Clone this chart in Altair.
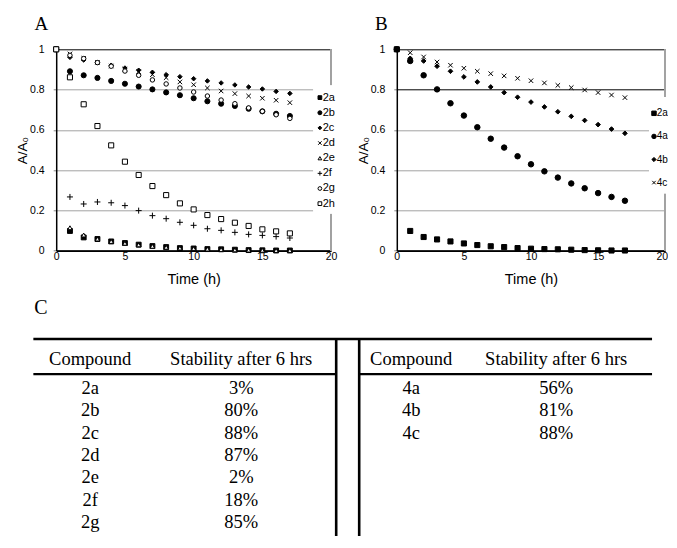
import altair as alt
import pandas as pd

# ---------------- data ----------------
HOURS = list(range(18))

A_SERIES = ["2a", "2b", "2c", "2d", "2e", "2f", "2g", "2h"]
A_2a = [1.0, 0.098, 0.066, 0.058, 0.046, 0.038, 0.030, 0.023, 0.018, 0.013, 0.011, 0.008, 0.007, 0.005, 0.003, 0.002, 0.001, 0.001]
A_2b = [1.0, 0.891, 0.871, 0.858, 0.843, 0.829, 0.815, 0.801, 0.786, 0.772, 0.757, 0.742, 0.730, 0.719, 0.705, 0.692, 0.680, 0.669]
A_2c = [1.0, 0.960, 0.947, 0.934, 0.921, 0.907, 0.896, 0.886, 0.874, 0.864, 0.854, 0.843, 0.833, 0.823, 0.813, 0.803, 0.791, 0.781]
A_2d = [1.0, 0.977, 0.955, 0.935, 0.917, 0.902, 0.889, 0.874, 0.859, 0.838, 0.824, 0.808, 0.793, 0.780, 0.768, 0.757, 0.747, 0.735]
A_2e = [1.0, 0.114, 0.078, 0.058, 0.046, 0.037, 0.029, 0.022, 0.017, 0.013, 0.010, 0.008, 0.006, 0.004, 0.003, 0.002, 0.001, 0.001]
A_2f = [1.0, 0.267, 0.232, 0.242, 0.238, 0.224, 0.199, 0.174, 0.159, 0.141, 0.126, 0.109, 0.101, 0.091, 0.081, 0.076, 0.070, 0.063]
A_2g = [1.0, 0.970, 0.954, 0.934, 0.916, 0.892, 0.871, 0.848, 0.828, 0.808, 0.788, 0.768, 0.748, 0.730, 0.709, 0.692, 0.675, 0.657]
A_2h = [1.0, 0.861, 0.727, 0.619, 0.523, 0.442, 0.376, 0.321, 0.276, 0.235, 0.205, 0.177, 0.157, 0.139, 0.123, 0.106, 0.096, 0.086]
A_VALUES = [A_2a, A_2b, A_2c, A_2d, A_2e, A_2f, A_2g, A_2h]

B_SERIES = ["2a", "4a", "4b", "4c"]
B_2a = [1.0, 0.098, 0.068, 0.056, 0.046, 0.036, 0.028, 0.022, 0.018, 0.013, 0.010, 0.008, 0.007, 0.005, 0.003, 0.002, 0.001, 0.001]
B_4a = [1.0, 0.942, 0.871, 0.801, 0.732, 0.671, 0.613, 0.556, 0.512, 0.469, 0.429, 0.394, 0.363, 0.334, 0.310, 0.286, 0.267, 0.248]
B_4b = [1.0, 0.955, 0.942, 0.916, 0.891, 0.863, 0.838, 0.813, 0.785, 0.762, 0.738, 0.714, 0.690, 0.667, 0.647, 0.626, 0.604, 0.583]
B_4c = [1.0, 0.983, 0.962, 0.937, 0.921, 0.906, 0.891, 0.879, 0.868, 0.856, 0.844, 0.833, 0.821, 0.810, 0.798, 0.785, 0.773, 0.760]
B_VALUES = [B_2a, B_4a, B_4b, B_4c]

X_TICKS = [0, 5, 10, 15, 20]
Y_TICKS = [0, 0.2, 0.4, 0.6, 0.8, 1]

TABLE_HEAD = ["Compound", "Stability after 6 hrs"]
T_LEFT_COMP = ["2a", "2b", "2c", "2d", "2e", "2f", "2g", "2h"]
T_LEFT_STAB = ["3%", "80%", "88%", "87%", "2%", "18%", "85%", "38%"]
T_RIGHT_COMP = ["4a", "4b", "4c"]
T_RIGHT_STAB = ["56%", "81%", "88%"]

# ---------------- styles / layout ----------------
SANS = "Liberation Sans"
SERIF = "Liberation Serif"
GRID = "#a3a3a3"
P_X = "M-1,-1L1,1M1,-1L-1,1"
P_PLUS = "M-1,0L1,0M0,-1L0,1"

A_STYLE = {  # shape, fill, plot size, legend size
    "2a": ("square", "black", 24, 14),
    "2b": ("circle", "black", 26, 16),
    "2c": ("diamond", "black", 20, 14),
    "2d": (P_X, "black", 20, 12),
    "2e": ("triangle-up", "white", 20, 14),
    "2f": (P_PLUS, "black", 36, 20),
    "2g": ("circle", "white", 20, 14),
    "2h": ("square", "white", 26, 14),
}
B_STYLE = {
    "2a": ("square", "black", 26, 20),
    "4a": ("circle", "black", 30, 20),
    "4b": ("diamond", "black", 22, 18),
    "4c": (P_X, "black", 20, 12),
}

PW_A, PW_B, PH = 274.9, 268.4, 201.4
GAP_AB = 65.6
TABLE_INDENT = 22.8      # table starts this far left of panel A's plot

# legend layout, px relative to each plot's top-left:
# (box x0, box x1, box y0, box y1, symbol x, label x, first row y, row pitch, font)
A_LEG = (257.5, 285, 36.5, 164, 263.7, 266.5, 48.3, 15.15, 11)
B_LEG = (252.5, 271.3, 47.7, 144, 257.2, 260.0, 64.0, 23.1, 10)


def to_long(names, values):
    rows = []
    for n, vals in zip(names, values):
        for h, v in zip(HOURS, vals):
            rows.append({"t": h, "v": v, "s": n})
    return pd.DataFrame(rows)


def panel(names, values, style, draw_order, letter, width, leg, dark_test, tuck_last):
    df = to_long(names, values)
    grid_color = {"condition": {"test": dark_test, "value": "#000000"}, "value": GRID}
    x_axis_extra = {}
    if tuck_last:
        x_axis_extra = dict(
            labelAlign={"condition": {"test": "datum.value == 20", "value": "right"}, "value": "center"},
            labelOffset={"condition": {"test": "datum.value == 20", "value": 2.5}, "value": 0},
        )
    xenc = alt.X(
        "t:Q",
        scale=alt.Scale(domain=[0, 20], nice=False),
        axis=alt.Axis(
            values=X_TICKS, grid=False, ticks=False, tickSize=0, labelPadding=1,
            labelFlush=False, labelFont=SANS, labelFontSize=10.5, labelColor="black",
            title="Time (h)", titleFont=SANS, titleFontSize=14.5, titleFontWeight="normal",
            titleColor="black", titlePadding=10, domainColor="black", domainWidth=1.5,
            **x_axis_extra,
        ),
    )
    yenc = alt.Y(
        "v:Q",
        scale=alt.Scale(domain=[0, 1], nice=False),
        axis=alt.Axis(
            values=Y_TICKS, format=".1~f", grid=True, gridColor=grid_color, gridWidth=1,
            ticks=True, tickSize=3, tickColor="#888888", labelPadding=9,
            labelFont=SANS, labelFontSize=10.5,
            labelColor="black", title="A/A₀", titleFont=SANS, titleFontSize=13.5,
            titleFontWeight="normal", titleColor="black", titlePadding=0,
            domainColor="black", domainWidth=1.5,
        ),
    )
    layers = []
    # right frame line of the plot area
    layers.append(
        alt.Chart(df).mark_rule(color=GRID, strokeWidth=1).encode(
            x=alt.datum(20), y=alt.datum(0), y2=alt.datum(1)
        )
    )
    for n in draw_order:
        shp, fil, sz, _ = style[n]
        layers.append(
            alt.Chart(df)
            .transform_filter(alt.datum.s == n)
            .mark_point(
                shape=shp, stroke="black", strokeWidth=1, opacity=1, fill=fil,
                fillOpacity=1, size=sz,
            )
            .encode(x=xenc, y=yenc)
        )
    data_group = alt.layer(*layers)

    bx0, bx1, by0, by1, sx, lx, ry0, pitch, fs = leg
    n = len(names)
    leg_df = pd.DataFrame({"i": list(range(n)), "s": names})
    yleg = alt.Y(
        "i:Q", axis=None,
        scale=alt.Scale(domain=[0, n - 1], range=[ry0, ry0 + pitch * (n - 1)], nice=False, zero=False),
    )
    box = alt.Chart(leg_df).mark_rect(fill="white", stroke="white", strokeWidth=0).encode(
        x=alt.value(bx0), x2=alt.value(bx1), y=alt.value(by0), y2=alt.value(by1)
    )
    leg_layers = [box]
    for nm in names:
        shp, fil, _, lsz = style[nm]
        leg_layers.append(
            alt.Chart(leg_df)
            .transform_filter(alt.datum.s == nm)
            .mark_point(shape=shp, stroke="black", strokeWidth=1, opacity=1,
                        fill=fil, fillOpacity=1, size=lsz)
            .encode(x=alt.value(sx), y=yleg)
        )
    leg_layers.append(
        alt.Chart(leg_df)
        .mark_text(align="left", baseline="middle", font=SANS, fontSize=fs, color="black")
        .encode(x=alt.value(lx), y=yleg, text="s:N")
    )
    return (
        alt.layer(data_group, *leg_layers)
        .resolve_scale(y="independent")
        .properties(
            width=width,
            height=PH,
            title=alt.TitleParams(
                letter, anchor="start", frame="group", font=SERIF, fontSize=19,
                fontWeight="normal", color="black", dx=-21.8, offset=10,
            ),
            view=alt.ViewBackground(stroke="transparent", strokeWidth=0),
        )
    )


chartA = panel(A_SERIES, A_VALUES, A_STYLE, A_SERIES, "A", PW_A, A_LEG,
               "datum.value < 0.01 || datum.value > 0.99", False)
chartB = panel(B_SERIES, B_VALUES, B_STYLE, ["4c", "4b", "4a", "2a"], "B", PW_B, B_LEG,
               "datum.value < 0.01 || datum.value > 0.79", True)

# ---------------- table ----------------
T_RIGHT = 619            # table width (px)
ROW_PX = 22.3            # row pitch
Y_TOP = -1.2             # row coordinate of top rule
Y_START = Y_TOP - 0.1    # row coordinate of the table area's top edge
TH = 199.5
COL_CENTER = [57, 208, 378, 523]
HEAD_ROW = -0.29
HEAD_RULE = 0.37
V_LINES = [303, 326]

cells = []
for i, (c, s) in enumerate(zip(T_LEFT_COMP, T_LEFT_STAB)):
    cells.append({"x": COL_CENTER[0], "r": i + 1, "txt": c})
    cells.append({"x": COL_CENTER[1], "r": i + 1, "txt": s})
for i, (c, s) in enumerate(zip(T_RIGHT_COMP, T_RIGHT_STAB)):
    cells.append({"x": COL_CENTER[2], "r": i + 1, "txt": c})
    cells.append({"x": COL_CENTER[3], "r": i + 1, "txt": s})
for k, h in enumerate(TABLE_HEAD + TABLE_HEAD):
    cells.append({"x": COL_CENTER[k], "r": HEAD_ROW, "txt": h})
cells = pd.DataFrame(cells)

hr = pd.DataFrame([
    {"x": 0, "x2": T_RIGHT, "y": Y_TOP, "w": 2.6},
    {"x": 0, "x2": V_LINES[0], "y": HEAD_RULE, "w": 2.2},
    {"x": V_LINES[1], "x2": T_RIGHT, "y": HEAD_RULE, "w": 2.2},
])
vr = pd.DataFrame([{"x": vx, "y": Y_TOP, "y2": 9.5} for vx in V_LINES])

xs = alt.Scale(domain=[0, T_RIGHT], nice=False, zero=False)
ys = alt.Scale(domain=[Y_START, Y_START + TH / ROW_PX], nice=False, zero=False, reverse=True)

t_text = alt.Chart(cells).mark_text(
    font=SERIF, fontSize=18.5, baseline="middle", align="center", color="black", clip=True
).encode(
    x=alt.X("x:Q", scale=xs, axis=None),
    y=alt.Y("r:Q", scale=ys, axis=None),
    text="txt:N",
)
t_h = alt.Chart(hr).mark_rule(color="black", clip=True).encode(
    x=alt.X("x:Q", scale=xs, axis=None), x2="x2:Q",
    y=alt.Y("y:Q", scale=ys, axis=None),
    strokeWidth=alt.StrokeWidth("w:Q", scale=None),
)
t_v = alt.Chart(vr).mark_rule(color="black", strokeWidth=2.6, clip=True).encode(
    x=alt.X("x:Q", scale=xs, axis=None),
    y=alt.Y("y:Q", scale=ys, axis=None), y2="y2:Q",
)
table = alt.layer(t_text, t_h, t_v).properties(
    width=T_RIGHT,
    height=TH,
    title=alt.TitleParams(
        "C", anchor="start", frame="group", font=SERIF, fontSize=20, fontWeight="normal",
        color="black", dx=1, offset=18.7,
    ),
    view=alt.ViewBackground(stroke="transparent", strokeWidth=0),
)

# invisible spacer so that the table can start left of panel A's plot
spacer = alt.Chart(pd.DataFrame({"z": [0]})).mark_point(opacity=0, size=0).encode(
    x=alt.value(0), y=alt.value(0)
).properties(
    width=TABLE_INDENT, height=1,
    view=alt.ViewBackground(stroke="transparent", strokeWidth=0),
)

panels = alt.hconcat(chartA, chartB, spacing=GAP_AB, bounds="flush")
top = alt.hconcat(spacer, panels, spacing=0, bounds="flush")
# in a flush vconcat the nested row counts with zero height, so the gap
# below it spans the panel height plus the visual gap
chart = alt.vconcat(top, table, spacing=287.5, bounds="flush").properties(
    padding={"left": 7.2, "top": 7.3, "right": 0, "bottom": 0},
    background="white",
)

chart.save("out.html", embed_options={"renderer": "svg", "actions": False})
